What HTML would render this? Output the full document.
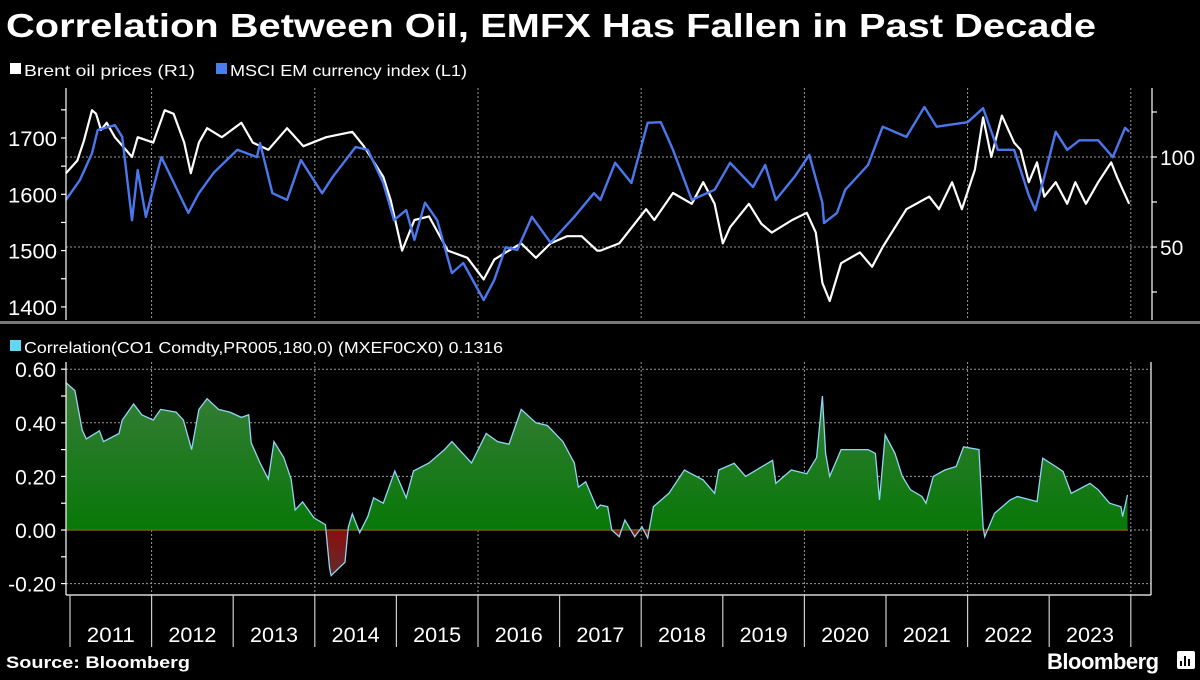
<!DOCTYPE html>
<html><head><meta charset="utf-8"><style>
html,body{margin:0;padding:0;background:#000;}
body{width:1200px;height:675px;overflow:hidden;position:relative;font-family:"Liberation Sans",sans-serif;color:#fff;}
</style></head><body>
<svg id="c" width="1200" height="675" viewBox="0 0 1200 675" xmlns="http://www.w3.org/2000/svg">
<defs>
<linearGradient id="gpos" x1="0" y1="369" x2="0" y2="530" gradientUnits="userSpaceOnUse">
<stop offset="0" stop-color="#3d7d3d"/><stop offset="1" stop-color="#087808"/></linearGradient>
<linearGradient id="gneg" x1="0" y1="530" x2="0" y2="584" gradientUnits="userSpaceOnUse">
<stop offset="0" stop-color="#8a0f0f"/><stop offset="1" stop-color="#5a3030"/></linearGradient>
<clipPath id="above"><rect x="60" y="300" width="1100" height="230"/></clipPath>
<clipPath id="below"><rect x="60" y="530" width="1100" height="80"/></clipPath>
</defs>
<text x="6" y="37" font-size="33" font-weight="bold" fill="#fff" textLength="1090" lengthAdjust="spacingAndGlyphs">Correlation Between Oil, EMFX Has Fallen in Past Decade</text>
<g>
<rect x="10" y="63" width="11" height="11" fill="#fff"/>
<text x="24" y="76" font-size="16" fill="#fff" textLength="171" lengthAdjust="spacingAndGlyphs">Brent oil prices (R1)</text>
<rect x="216" y="63" width="11" height="11" fill="#4a7ef0"/>
<text x="230" y="76" font-size="16" fill="#fff" textLength="237" lengthAdjust="spacingAndGlyphs">MSCI EM currency index (L1)</text>
</g>
<rect x="0" y="321" width="1200" height="3" fill="#777"/>
<g>
<rect x="10" y="340" width="11" height="11" fill="#5fd8f0"/>
<text x="24" y="353" font-size="16" fill="#fff" textLength="479" lengthAdjust="spacingAndGlyphs">Correlation(CO1 Comdty,PR005,180,0) (MXEF0CX0) 0.1316</text>
</g>
<g id="grid"></g>
<g id="marks"></g>
<g id="axes"></g>
<text x="6" y="668" font-size="17" font-weight="bold" fill="#fff" textLength="184" lengthAdjust="spacingAndGlyphs">Source: Bloomberg</text>
<text x="1047" y="669" font-size="22" font-weight="bold" fill="#fff" letter-spacing="-0.5">Bloomberg</text>
<g>
<rect x="1177" y="651" width="18" height="18" rx="2" fill="#fff"/>
<rect x="1180" y="661" width="2" height="5" fill="#000"/><rect x="1184" y="656" width="2" height="10" fill="#000"/><rect x="1188" y="659" width="2" height="7" fill="#000"/>
</g>
</svg>
<script>
// ---- data ----
const msciDates = [2010.95,2011.12,2011.27,2011.34,2011.55,2011.64,2011.76,2011.83,2011.93,2012.12,2012.45,2012.58,2012.76,2013.05,2013.29,2013.33,2013.48,2013.66,2013.83,2014.09,2014.22,2014.5,2014.65,2014.84,2014.97,2015.12,2015.22,2015.35,2015.5,2015.68,2015.82,2016.07,2016.2,2016.34,2016.48,2016.66,2016.89,2017.18,2017.42,2017.5,2017.68,2017.88,2018.08,2018.24,2018.39,2018.62,2018.9,2019.09,2019.37,2019.52,2019.65,2019.88,2020.06,2020.22,2020.24,2020.4,2020.5,2020.78,2020.96,2021.25,2021.47,2021.62,2022.0,2022.19,2022.37,2022.57,2022.75,2022.83,2022.94,2023.08,2023.22,2023.37,2023.6,2023.78,2023.93,2023.98];
const msciValues = [1590,1625,1673,1714,1723,1702,1554,1643,1560,1666,1567,1602,1638,1679,1666,1691,1602,1590,1661,1602,1631,1684,1679,1620,1554,1572,1519,1585,1554,1460,1478,1412,1448,1506,1501,1560,1514,1560,1602,1590,1656,1620,1727,1728,1679,1590,1608,1656,1613,1652,1590,1631,1670,1585,1549,1567,1608,1652,1720,1702,1755,1720,1728,1753,1679,1679,1598,1572,1631,1711,1679,1696,1696,1666,1718,1711];
const brentDates = [2010.95,2011.09,2011.17,2011.27,2011.32,2011.38,2011.45,2011.55,2011.76,2011.83,2012.02,2012.16,2012.27,2012.4,2012.48,2012.58,2012.68,2012.86,2013.1,2013.24,2013.43,2013.66,2013.86,2014.14,2014.46,2014.6,2014.84,2014.93,2015.07,2015.22,2015.4,2015.63,2015.87,2016.07,2016.2,2016.34,2016.53,2016.71,2016.89,2017.09,2017.27,2017.46,2017.5,2017.73,2018.06,2018.16,2018.39,2018.62,2018.76,2018.9,2019.0,2019.09,2019.32,2019.47,2019.6,2019.85,2020.03,2020.14,2020.22,2020.31,2020.45,2020.68,2020.83,2020.96,2021.25,2021.53,2021.65,2021.81,2021.93,2022.09,2022.19,2022.29,2022.42,2022.57,2022.65,2022.75,2022.85,2022.94,2023.08,2023.22,2023.32,2023.45,2023.6,2023.76,2023.83,2023.9,2023.98];
const brentValues = [91,98,109,126,124,115,119,111,100,111,108,126,124,108,91,108,116,111,119,108,104,116,106,111,114,106,89,76,48,65,67,48,44,32,43,47,52,44,52,56,56,48,48,52,71,65,80,74,86,74,52,61,74,63,58,65,69,58,30,20,41,47,39,50,71,78,71,86,71,93,122,100,123,108,104,86,97,78,86,74,86,74,86,97,89,82,74];
const corrDates = [2010.95,2011.06,2011.15,2011.2,2011.36,2011.41,2011.6,2011.64,2011.78,2011.88,2012.02,2012.11,2012.3,2012.39,2012.49,2012.58,2012.68,2012.82,2012.96,2013.1,2013.19,2013.22,2013.33,2013.43,2013.5,2013.62,2013.71,2013.76,2013.85,2013.99,2014.13,2014.18,2014.2,2014.37,2014.41,2014.46,2014.55,2014.65,2014.72,2014.84,2014.98,2015.12,2015.21,2015.4,2015.59,2015.68,2015.77,2015.92,2016.1,2016.24,2016.38,2016.53,2016.71,2016.85,2017.04,2017.18,2017.23,2017.32,2017.46,2017.5,2017.59,2017.64,2017.73,2017.8,2017.92,2018.01,2018.08,2018.15,2018.34,2018.53,2018.6,2018.76,2018.9,2018.95,2019.14,2019.28,2019.61,2019.65,2019.84,2020.03,2020.15,2020.22,2020.26,2020.31,2020.45,2020.78,2020.87,2020.92,2020.99,2021.11,2021.2,2021.3,2021.44,2021.49,2021.58,2021.72,2021.86,2021.95,2022.14,2022.19,2022.21,2022.33,2022.52,2022.61,2022.85,2022.92,2023.08,2023.17,2023.27,2023.5,2023.6,2023.74,2023.88,2023.9,2023.96];
const corrValues = [0.55,0.52,0.373,0.34,0.37,0.33,0.36,0.41,0.47,0.43,0.41,0.45,0.44,0.41,0.30,0.45,0.49,0.45,0.44,0.42,0.43,0.325,0.25,0.19,0.33,0.27,0.19,0.075,0.105,0.045,0.02,-0.14,-0.17,-0.12,0.01,0.06,-0.01,0.05,0.12,0.10,0.22,0.12,0.22,0.25,0.30,0.33,0.30,0.25,0.36,0.33,0.32,0.45,0.40,0.39,0.33,0.25,0.16,0.18,0.08,0.093,0.087,0,-0.025,0.037,-0.025,0.012,-0.03,0.087,0.137,0.224,0.212,0.187,0.137,0.224,0.249,0.20,0.26,0.174,0.224,0.21,0.27,0.50,0.286,0.20,0.30,0.30,0.286,0.112,0.355,0.286,0.20,0.15,0.125,0.10,0.20,0.224,0.237,0.31,0.30,0.012,-0.025,0.062,0.112,0.125,0.106,0.268,0.237,0.218,0.137,0.174,0.15,0.10,0.087,0.05,0.131];
const yearLabels = ['2011','2012','2013','2014','2015','2016','2017','2018','2019','2020','2021','2022','2023'];
const leftTicks = [1400,1500,1600,1700];
const rightTicks = [50,100];
const corrTicks = [-0.2,0,0.2,0.4,0.6];

// ---- scales ----
const NS = 'http://www.w3.org/2000/svg';
const xT = t => 70 + (t - 2011) * 81.6;
const yL = v => 138 - (v - 1700) * 0.563;
const yR = v => 157 - (v - 100) * 1.8;
const yC = v => 530 - v * 268;
function mk(tag, attrs, parent){ const e=document.createElementNS(NS,tag); for(const k in attrs) e.setAttribute(k,attrs[k]); parent.appendChild(e); return e; }
const grid=document.getElementById('grid'), marks=document.getElementById('marks'), axes=document.getElementById('axes');
const dash={stroke:'#9a9a9a','stroke-width':1,'stroke-dasharray':'2,2'};

for(let y=2012;y<=2024;y+=2){
  let g=mk('line',Object.assign({x1:xT(y),x2:xT(y),y1:88,y2:320},dash),grid);
  
  
  let g2=mk('line',Object.assign({x1:xT(y),x2:xT(y),y1:362,y2:595},dash),grid);
  
  
}
rightTicks.forEach(v=>{
  let g=mk('line',Object.assign({x1:66,x2:1152,y1:yR(v),y2:yR(v)},dash),grid);
  
  
});
corrTicks.forEach(v=>{
  let g=mk('line',Object.assign({x1:66,x2:1151,y1:yC(v),y2:yC(v)},dash),grid);
  
  
});

let cp='M'+xT(corrDates[0])+','+yC(0);
corrDates.forEach((d,i)=>{cp+=' L'+xT(d).toFixed(1)+','+yC(corrValues[i]).toFixed(1);});
cp+=' L'+xT(corrDates[corrDates.length-1])+','+yC(0)+' Z';
const ap=mk('path',{d:cp,fill:'url(#gpos)','clip-path':'url(#above)'},marks);


const an=mk('path',{d:cp,fill:'url(#gneg)','clip-path':'url(#below)'},marks);


const zl=mk('line',{x1:xT(corrDates[0]),x2:xT(corrDates[corrDates.length-1]),y1:yC(0),y2:yC(0),stroke:'#7a5a10','stroke-width':1.5},marks);


let cl='';
corrDates.forEach((d,i)=>{cl+=(i?' L':'M')+xT(d).toFixed(1)+','+yC(corrValues[i]).toFixed(1);});
const cLine=mk('path',{d:cl,fill:'none',stroke:'#8fd6f5','stroke-width':1.3},marks);



let bp='';
brentDates.forEach((d,i)=>{bp+=(i?' L':'M')+xT(d).toFixed(1)+','+yR(brentValues[i]).toFixed(1);});
const bl=mk('path',{d:bp,fill:'none',stroke:'#fff','stroke-width':2.2,'stroke-linejoin':'round'},marks);


let mp='';
msciDates.forEach((d,i)=>{mp+=(i?' L':'M')+xT(d).toFixed(1)+','+yL(msciValues[i]).toFixed(1);});
const ml=mk('path',{d:mp,fill:'none',stroke:'#4a78ec','stroke-width':2.4,'stroke-linejoin':'round'},marks);



const W={stroke:'#fff','stroke-width':1.2};
let a;
a=mk('line',Object.assign({x1:66,x2:66,y1:88,y2:320},W),axes);


a=mk('line',Object.assign({x1:1152,x2:1152,y1:88,y2:320},W),axes);


a=mk('line',Object.assign({x1:66,x2:66,y1:362,y2:595},W),axes);


a=mk('line',Object.assign({x1:1151,x2:1151,y1:362,y2:595},W),axes);


a=mk('line',Object.assign({x1:66,x2:1151,y1:595,y2:595},W),axes);



for(let v=1400;v<=1750;v+=50){ a=mk('line',Object.assign({x1:61,x2:66,y1:yL(v),y2:yL(v)},W),axes);
  
   }
leftTicks.forEach(v=>{ a=mk('text',{x:57,y:yL(v)+8,'font-size':21,fill:'#fff','text-anchor':'end',textLength:49,lengthAdjust:'spacingAndGlyphs'},axes); a.textContent=v;
  
   });
[25,50,75,100,125].forEach(v=>{ a=mk('line',Object.assign({x1:1152,x2:1157,y1:yR(v),y2:yR(v)},W),axes);
  
   });
rightTicks.forEach(v=>{ a=mk('text',{x:1160,y:yR(v)+8,'font-size':21,fill:'#fff'},axes); a.textContent=v;
  
   });
for(let v=-0.2;v<=0.61;v+=0.1){ a=mk('line',Object.assign({x1:61,x2:66,y1:yC(v),y2:yC(v)},W),axes);
  
   }
corrTicks.forEach(v=>{ a=mk('text',{x:56,y:yC(v)+8,'font-size':21,fill:'#fff','text-anchor':'end'},axes); a.textContent=v.toFixed(2);
  
   });
for(let i=0;i<=yearLabels.length;i++){ a=mk('line',{x1:xT(2011+i),x2:xT(2011+i),y1:595,y2:647,stroke:'#ccc','stroke-width':1.2},axes);
  
   }
yearLabels.forEach((l,i)=>{ a=mk('text',{x:xT(2011.5+i),y:642,'font-size':21,fill:'#fff','text-anchor':'middle',textLength:48,lengthAdjust:'spacingAndGlyphs'},axes); a.textContent=l;
  
   });
</script>
</body></html>
